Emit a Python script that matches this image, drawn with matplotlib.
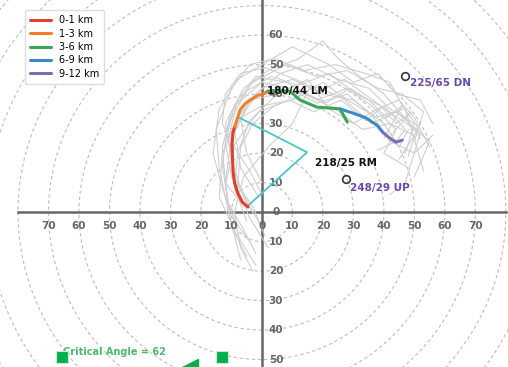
import numpy as np
import matplotlib.pyplot as plt

# hodograph segments (u, v in kts)
seg_names = ['0-1 km', '1-3 km', '3-6 km', '6-9 km', '9-12 km']
seg_colors = ['#e0412a', '#ef7f2f', '#3aa657', '#3a8ac8', '#7b6cb6']
seg_u = [
    [-4.6, -6.5, -7.9, -9.0, -9.5, -9.8, -9.5, -8.9],
    [-8.9, -7.2, -5.5, -3.9, -1.5, 0.3, 2.0],
    [2.0, 5.5, 9.2, 12.5, 18.0, 25.6, 28.0],
    [25.6, 30.0, 34.0, 37.7, 39.7],
    [39.7, 42.0, 44.0, 46.0],
]
seg_v = [
    [1.7, 3.5, 6.4, 10.0, 14.0, 23.0, 27.0, 29.0],
    [29.0, 34.6, 36.8, 38.0, 39.5, 40.0, 41.0],
    [41.0, 41.3, 41.0, 38.0, 35.6, 35.0, 30.5],
    [35.0, 33.5, 32.0, 29.5, 27.0],
    [27.0, 25.0, 23.7, 24.4],
]

# critical angle lines
crit_u = [-7.2, 14.8, -4.3]
crit_v = [31.9, 20.3, 2.4]

# storm motions
motion_labels = ['218/25 RM', '180/44 LM', '225/65 DN', '248/29 UP']
motion_u = [15.4, 0.0, 46.9, 27.5]
motion_v = [19.7, 44.0, 46.0, 11.2]

# ensemble members (light gray)
ens_u = [
    [-5, -10, -12, -10, -5, 0, 10, 20, 30, 40, 45, 48],
    [-2, -8, -14, -13, -8, -2, 6, 15, 25, 35, 42, 50, 47],
    [0, -6, -10, -12, -6, 2, 12, 20, 25, 32, 40, 46, 52],
    [-3, -9, -11, -8, -2, 8, 18, 28, 36, 44, 40, 48],
    [-1, -7, -9, -4, 5, 15, 22, 30, 38, 45, 50, 55],
    [-4, -11, -14, -15, -10, -4, 4, 14, 24, 34, 42, 46, 40],
    [2, -4, -8, -7, -3, 4, 14, 24, 33, 42, 50, 45],
    [-6, -12, -13, -10, -3, 8, 18, 28, 38, 46, 53, 50],
    [0, -5, -7, 0, 10, 20, 28, 36, 42, 50, 56],
    [-8, -13, -16, -14, -8, 0, 10, 22, 30, 38, 44, 52, 56],
    [-3, -7, -9, -6, 2, 10, 16, 26, 36, 44, 52, 47, 42],
    [1, -3, -10, -12, -9, 0, 9, 18, 28, 37, 47, 53],
    [-2, -6, -11, -13, -11, -5, 3, 12, 22, 31, 39, 44, 49, 43],
    [-5, -9, -8, -4, 4, 13, 21, 29, 35, 41, 46, 51, 48],
    [0, -4, -9, -13, -12, -7, 1, 11, 19, 27, 35, 43, 49, 55, 50],
    [-7, -10, -12, -9, -1, 9, 17, 26, 34, 40, 47, 44, 38],
]
ens_v = [
    [-15, -5, 10, 25, 35, 42, 45, 40, 38, 30, 22, 28],
    [-18, -8, 5, 20, 32, 40, 47, 50, 45, 42, 35, 30, 20],
    [-5, 5, 18, 30, 42, 48, 52, 58, 52, 46, 40, 33, 25],
    [0, 12, 25, 38, 46, 44, 38, 42, 36, 28, 20, 15],
    [5, 15, 28, 38, 40, 45, 35, 30, 35, 38, 32, 22],
    [-10, 0, 15, 28, 42, 50, 52, 48, 50, 47, 44, 36, 25],
    [-12, -2, 8, 22, 30, 36, 40, 35, 28, 30, 26, 18],
    [2, 10, 22, 34, 44, 50, 46, 48, 42, 40, 34, 24],
    [10, 20, 32, 36, 38, 44, 38, 33, 24, 20, 26],
    [-5, 8, 20, 35, 45, 50, 56, 50, 44, 47, 40, 38, 30],
    [-20, -12, 0, 12, 22, 30, 43, 39, 30, 34, 27, 10, 6],
    [-8, 2, 12, 24, 36, 44, 42, 37, 40, 32, 35, 14],
    [-14, -6, 3, 16, 30, 41, 46, 43, 47, 40, 36, 30, 34, 27],
    [-3, 8, 20, 31, 39, 41, 37, 42, 38, 32, 36, 29, 19],
    [6, 14, 22, 30, 40, 47, 49, 45, 41, 45, 39, 33, 29, 24, 12],
    [-16, -4, 9, 23, 34, 38, 34, 38, 31, 36, 28, 24, 21],
]

ring_radii = np.arange(10, 130, 10)
crit_angle = 62

fig = plt.figure(figsize=(5.08, 3.67), dpi=100)
ax = fig.add_axes([0, 0, 1, 1])
ax.set_xlim(-85.9, 80.7)
ax.set_ylim(-52.5, 71.9)
ax.axis('off')

t = np.linspace(0, 2 * np.pi, 400)
for r in ring_radii:
    ax.plot(r * np.cos(t), r * np.sin(t), ls=(0, (3, 2.5)), color='#bdbdbd', lw=0.8, zorder=1)

ax.plot([-80, 80], [0, 0], color='#666666', lw=1.8, zorder=2)
ax.plot([0, 0], [-80, 80], color='#666666', lw=1.8, zorder=2)

for r in range(0, 80, 10):
    ax.text(r, -4.8, str(r), ha='center', va='center', fontsize=7.5,
            fontweight='bold', color='#666666', zorder=3)
    if r > 0:
        ax.text(-r, -4.8, str(r), ha='center', va='center', fontsize=7.5,
                fontweight='bold', color='#666666', zorder=3)
for r in range(0, 70, 10):
    ax.text(4.6, r, str(r), ha='center', va='center', fontsize=7.5,
            fontweight='bold', color='#666666', zorder=3)
    if 0 < r <= 50:
        ax.text(4.6, -r, str(r), ha='center', va='center', fontsize=7.5,
                fontweight='bold', color='#666666', zorder=3)

for u, v in zip(ens_u, ens_v):
    ax.plot(u, v, color='#cfcfcf', lw=0.8, zorder=2)

ax.plot(crit_u, crit_v, color='#4cc4c8', lw=1.3, zorder=4)

for name, col, u, v in zip(seg_names, seg_colors, seg_u, seg_v):
    ax.plot(u, v, color=col, lw=2.2, label=name, zorder=5, solid_capstyle='round')

ax.plot(motion_u[2:], motion_v[2:], 'o', ms=5.5, mfc='none', mec='#333333', mew=1.2, zorder=6)

ax.text(motion_u[0] + 2, motion_v[0] - 3.2, motion_labels[0], fontsize=7.5,
        fontweight='bold', color='#111111', va='center', zorder=7)
ax.text(motion_u[1] + 1.6, motion_v[1] - 3.0, motion_labels[1], fontsize=7.5,
        fontweight='bold', color='#111111', va='center', zorder=7)
ax.text(motion_u[2] + 1.6, motion_v[2] - 2.4, motion_labels[2], fontsize=7.5,
        fontweight='bold', color='#6a4aa8', va='center', zorder=7)
ax.text(motion_u[3] + 1.3, motion_v[3] - 3.0, motion_labels[3], fontsize=7.5,
        fontweight='bold', color='#6a4aa8', va='center', zorder=7)

ax.text(-65.2, -47.3, f'Critical Angle = {crit_angle}', fontsize=7, fontweight='bold',
        color='#4cb86a', va='center', zorder=7)
ax.plot([-65.6, -13.1], [-49.0, -49.0], 's', ls='none', ms=9, color='#00b04f',
        mec='#cfe8d6', mew=0.8, zorder=8)
ax.plot([-23.6], [-52.4], '<', ms=11, color='#00b04f', zorder=8)

ax.legend(loc='upper left', bbox_to_anchor=(0.04, 0.985), fontsize=7, frameon=True,
          handlelength=2.2, borderpad=0.5, labelspacing=0.35, framealpha=1,
          edgecolor='#dddddd', fancybox=True)

fig.savefig('out.png', dpi=100)
